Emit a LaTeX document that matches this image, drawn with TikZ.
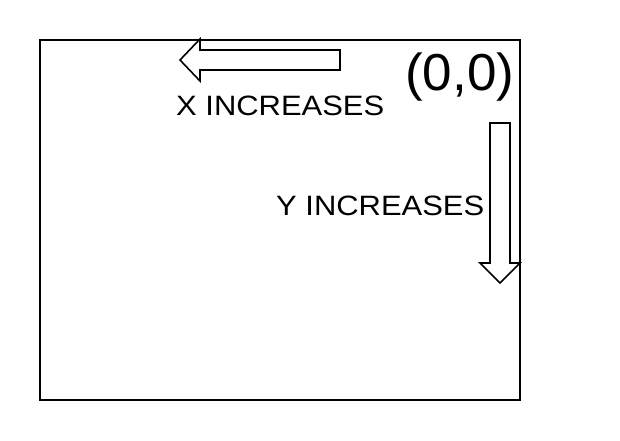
\documentclass[tikz,border=0pt]{standalone}
\usepackage{fontspec}
\setmainfont{Liberation Sans}
\newfontfamily\widesans[FakeStretch=1.105]{Liberation Sans}
\newfontfamily\bigsans[FakeStretch=1.02]{Liberation Sans}
\begin{document}
\begin{tikzpicture}[x=1pt,y=-1pt,
  shp/.style={draw=black,line width=1.6pt,fill=white,line join=miter},
  lbl/.style={inner sep=0pt,anchor=base west,font=\widesans\fontsize{28}{30}\selectfont},
  big/.style={inner sep=0pt,anchor=base west,font=\bigsans\fontsize{52}{56}\selectfont}]
\useasboundingbox (0,0) rectangle (620,440);
\node[draw=black,line width=1.6pt,minimum width=480pt,minimum height=360pt,inner sep=0pt] (frame) at (280,220) {};
\draw[shp] (340,50) -- (200,50) -- (200,39) -- (180,60) -- (200,81) -- (200,70) -- (340,70) -- cycle;
\draw[shp] (490,123) -- (510,123) -- (510,263) -- (520,263) -- (500,283) -- (480,263) -- (490,263) -- cycle;
\node[lbl] (xlab) at (176,115) {X INCREASES};
\node[lbl] (ylab) at (276,215) {Y INCREASES};
\node[big] (orig) at (405,90) {(0,0)};
\end{tikzpicture}
\end{document}
